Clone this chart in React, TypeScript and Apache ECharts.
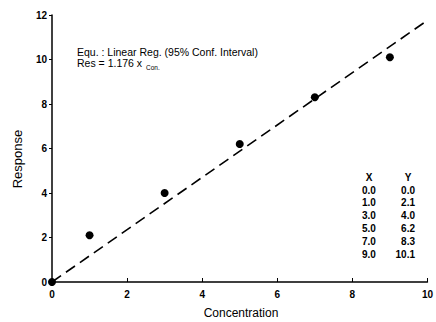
import React, { useEffect, useRef } from "react";
import * as echarts from "echarts";

const concentration = [0.0, 1.0, 3.0, 5.0, 7.0, 9.0];
const response = [0.0, 2.1, 4.0, 6.2, 8.3, 10.1];
const fitX = [0, 10];
const fitY = [0, 11.76];
const xTicks = [0, 2, 4, 6, 8, 10];
const yTicks = [0, 2, 4, 6, 8, 10, 12];
const equationLine1 = "Equ. : Linear Reg. (95% Conf. Interval)";
const equationLine2 = "Res = 1.176 x";
const equationSub = "Con.";

const FONT = "'Liberation Sans', Arial, Helvetica, sans-serif";
const INK = "#000";

export default function App() {
  const ref = useRef<HTMLDivElement>(null);
  useEffect(() => {
    if (!ref.current) return;
    const chart = echarts.init(ref.current, undefined, { renderer: "svg" });
    const tableTexts: any[] = [
      { type: "text", x: 369, y: 177, style: { text: "X", font: `bold 10px ${FONT}`, fill: INK, textAlign: "center", textVerticalAlign: "middle" } },
      { type: "text", x: 408, y: 177, style: { text: "Y", font: `bold 10px ${FONT}`, fill: INK, textAlign: "center", textVerticalAlign: "middle" } },
    ];
    concentration.forEach((x, i) => {
      tableTexts.push({
        type: "text",
        x: 362,
        y: 190 + i * 12.8,
        style: { text: x.toFixed(1), font: `bold 10px ${FONT}`, fill: INK, textAlign: "left", textVerticalAlign: "middle" },
      });
      tableTexts.push({
        type: "text",
        x: 415,
        y: 190 + i * 12.8,
        style: { text: response[i].toFixed(1), font: `bold 10px ${FONT}`, fill: INK, textAlign: "right", textVerticalAlign: "middle" },
      });
    });
    chart.setOption({
      animation: false,
      backgroundColor: "#fff",
      grid: { left: 52, right: 4, top: 15, bottom: 40 },
      xAxis: {
        type: "value",
        min: xTicks[0],
        max: xTicks[xTicks.length - 1],
        interval: 2,
        splitLine: { show: false },
        axisLine: { lineStyle: { color: INK, width: 1.5 } },
        axisTick: { inside: true, length: 4, lineStyle: { color: INK } },
        axisLabel: { color: INK, fontFamily: FONT, fontWeight: "bold", fontSize: 10, margin: 7 },
      },
      yAxis: {
        type: "value",
        min: yTicks[0],
        max: yTicks[yTicks.length - 1],
        interval: 2,
        splitLine: { show: false },
        axisLine: { show: true, lineStyle: { color: INK, width: 1.5 } },
        axisTick: { show: true, length: 3, lineStyle: { color: INK } },
        axisLabel: { color: INK, fontFamily: FONT, fontWeight: "bold", fontSize: 10, margin: 5 },
      },
      series: [
        {
          type: "line",
          data: fitX.map((x, i) => [x, fitY[i]]),
          showSymbol: false,
          symbol: "none",
          lineStyle: { color: INK, width: 1.6, type: [11, 6] },
          z: 2,
        },
        {
          type: "scatter",
          data: concentration.map((x, i) => [x, response[i]]),
          symbol: "circle",
          symbolSize: 8,
          itemStyle: { color: INK, opacity: 1 },
          z: 3,
        },
      ],
      graphic: [
        {
          type: "text",
          x: 17,
          y: 159,
          rotation: Math.PI / 2,
          style: { text: "Response", font: `13px ${FONT}`, fill: INK, textAlign: "center", textVerticalAlign: "middle" },
        },
        {
          type: "text",
          x: 241,
          y: 313,
          style: { text: "Concentration", font: `12px ${FONT}`, fill: INK, textAlign: "center", textVerticalAlign: "middle" },
        },
        {
          type: "text",
          x: 77,
          y: 52,
          style: { text: equationLine1, font: `10.5px ${FONT}`, fill: INK, textAlign: "left", textVerticalAlign: "middle" },
        },
        {
          type: "text",
          x: 77,
          y: 63,
          style: { text: equationLine2, font: `10.5px ${FONT}`, fill: INK, textAlign: "left", textVerticalAlign: "middle" },
        },
        {
          type: "text",
          x: 146,
          y: 67,
          style: { text: equationSub, font: `6.5px ${FONT}`, fill: INK, textAlign: "left", textVerticalAlign: "middle" },
        },
        ...tableTexts,
      ],
    });
    return () => chart.dispose();
  }, []);
  return <div ref={ref} style={{ position: "fixed", left: 0, top: 0, width: 436, height: 322 }} />;
}
